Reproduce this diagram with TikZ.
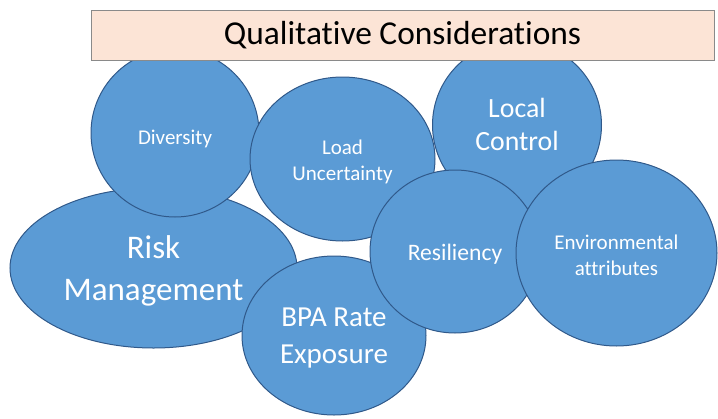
\documentclass[tikz,border=0pt]{standalone}
\usepackage{fontspec}
\setmainfont{Carlito}[Ligatures=NoCommon]
\usetikzlibrary{shapes.geometric}
\definecolor{bubblefill}{HTML}{5B9BD5}
\definecolor{bubbleline}{HTML}{30598A}
\definecolor{titlefill}{HTML}{FCE4D6}
\definecolor{titleline}{HTML}{8A8A8A}
\tikzset{
  bubble/.style={ellipse, draw=bubbleline, fill=bubblefill, line width=1pt,
    inner sep=0pt, outer sep=0pt},
  bubbletext/.style={inner sep=0pt, text=white, align=center},
  titlebox/.style={rectangle, draw=titleline, fill=titlefill, line width=1pt,
    inner sep=0pt, text=black},
}
\newcommand{\fs}[2]{\fontsize{#1}{#2}\selectfont}
\begin{document}
\begin{tikzpicture}[x=1pt,y=-1pt]
\useasboundingbox (0,0) rectangle (718,418);
\node[bubble, minimum width=287pt, minimum height=160pt] (risk) at (153.5,268) {};
\node[bubbletext, font=\fs{33}{42}] (riskt) at ([yshift=-3pt]risk.center) {Risk\\Management};
\node[bubble, minimum width=168pt, minimum height=168pt] (div) at (175,133) {};
\node[bubbletext, font=\fs{21}{26}] (divt) at ([yshift=-6pt]div.center) {Diversity};
\node[bubble, minimum width=185pt, minimum height=164pt] (load) at (342.5,159) {};
\node[bubbletext, font=\fs{21}{26.5}] (loadt) at ([yshift=-3pt]load.center) {Load\\Uncertainty};
\node[bubble, minimum width=169pt, minimum height=168pt] (local) at (517,125) {};
\node[bubbletext, font=\fs{27.8}{33}] (localt) at ([yshift=1pt]local.center) {Local\\Control};
\node[bubble, minimum width=184pt, minimum height=159pt] (bpa) at (334,335.5) {};
\node[bubbletext, font=\fs{29}{37}] (bpat) at ([yshift=-3pt]bpa.center) {BPA Rate\\Exposure};
\node[bubble, minimum width=170pt, minimum height=163pt] (res) at (455,251.5) {};
\node[bubbletext, font=\fs{23.6}{28}] (rest) at ([yshift=-3pt]res.center) {Resiliency};
\node[bubble, minimum width=201pt, minimum height=186pt] (env) at (616.5,253) {};
\node[bubbletext, font=\fs{21}{26}] (envt) at ([yshift=-2pt]env.center) {Environmental\\attributes};
\node[titlebox, minimum width=623pt, minimum height=50pt, font=\fs{33.4}{40}] (title) at (402.5,35) {Qualitative Considerations};
\end{tikzpicture}
\end{document}
